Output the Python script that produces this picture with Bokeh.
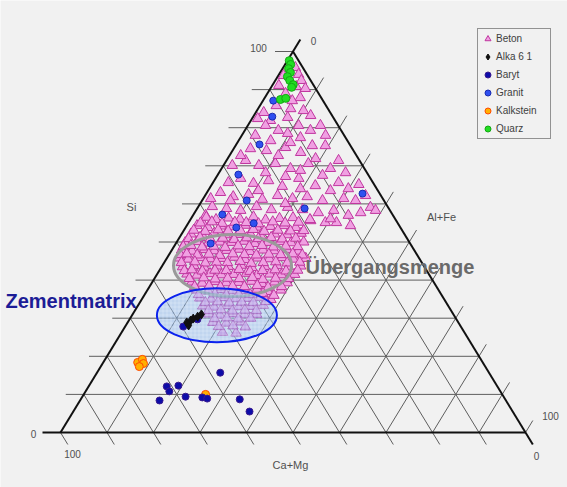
import numpy as np
from bokeh.plotting import figure
from bokeh.models import Range1d, Legend, LegendItem, Label
from bokeh.embed import file_html
from bokeh.resources import INLINE

# ---------------- data: ternary compositions in % (Si, Al+Fe); Ca+Mg = remainder ----------------
beton_upper_si = [
    95.8, 94.0, 92.4, 90.8, 91.1, 89.0, 87.9, 85.0, 84.5, 84.0, 82.4, 81.9, 82.7, 80.6, 79.3, 78.5,
    77.4, 79.3, 74.5, 74.0, 74.8, 73.5, 75.3, 71.4, 70.1, 70.6, 69.3, 70.6, 69.3, 66.7, 65.4, 66.1,
    64.6, 66.7, 64.8, 65.6, 65.1, 63.0, 61.9, 62.5, 61.2, 62.2, 61.4, 61.9, 60.9, 61.4, 60.9, 59.1,
    59.3, 58.8, 58.3, 59.3, 58.5, 59.1, 58.5, 57.7, 55.1, 57.0, 55.1,
    93.7, 90.3, 87.1, 85.8, 83.2, 80.6, 80.6, 78.0, 78.0, 76.1, 75.3, 76.6, 72.7, 72.7, 71.9, 71.4,
    70.1, 68.2, 68.8, 67.5, 68.2, 65.6, 67.2, 63.5, 64.0, 61.4, 64.0, 62.2, 58.3, 60.9, 63.5, 60.1,
    58.3, 57.7, 57.0, 55.1, 55.6, 54.3,
]
beton_upper_alfe = [
    2.6, 4.2, 5.6, 5.3, 1.4, 3.9, 7.6, 7.0, 10.0, 1.7, 1.2, 4.2, 7.5, 15.6, 7.2, 9.6,
    12.9, 14.1, 3.6, 7.3, 11.0, 14.9, 19.3, 4.1, 7.6, 10.9, 14.8, 18.0, 23.4, 5.4, 8.8, 11.7,
    15.4, 17.9, 22.4, 27.0, 31.6, 2.9, 6.2, 9.2, 12.8, 15.6, 19.2, 22.1, 25.9, 30.2, 33.0, 37.1,
    3.0, 6.3, 9.6, 12.5, 16.1, 19.3, 22.8, 26.6, 31.8, 33.4, 3.0,
    1.1, 7.5, 6.3, 3.5, 12.2, 3.8, 10.9, 18.0, 2.9, 11.4, 16.5, 6.9, 2.4, 10.5, 18.9, 24.1,
    1.9, 10.0, 17.2, 22.6, 27.2, 3.3, 14.8, 26.3, 29.9, 1.6, 19.6, 34.5, 38.6, 6.1, 10.8, 18.3,
    29.6, 35.7, 2.7, 29.4, 26.0, 35.2,
]

beton_core_si = [
    56.5, 55.9, 56.3, 56.0, 56.6, 55.8, 56.2, 56.4, 55.9, 56.1,
    54.3, 53.8, 54.2, 54.0, 54.4, 53.9, 54.1, 54.3, 53.8,
    52.1, 51.8, 52.3, 51.9, 52.0, 52.2, 51.7, 52.1, 51.9, 52.3,
    49.8, 50.1, 49.7, 50.0, 49.9, 50.2, 49.6, 49.9, 50.1, 49.8, 50.0,
    47.9, 47.6, 48.0, 47.7, 47.8, 48.1, 47.5, 47.9, 47.7, 48.0, 47.6,
    45.8, 45.5, 45.9, 45.6, 45.7, 46.0, 45.4, 45.8, 45.6, 45.9, 45.5, 45.7,
    43.5, 43.8, 43.4, 43.7, 43.6, 43.9, 43.3, 43.6, 43.8, 43.5, 43.7,
    41.6, 41.3, 41.7, 41.4, 41.5, 41.8, 41.2, 41.6, 41.4, 41.5,
    39.5, 39.2, 39.6, 39.3, 39.4, 39.7, 39.1, 39.5, 39.3,
    37.4, 37.1, 37.5, 37.2, 37.3, 37.6, 37.0, 37.4,
    35.3, 35.0, 35.4, 35.1, 35.2, 35.5, 34.9,
    33.2, 32.9, 33.3, 33.0, 33.1, 33.4,
    31.1, 30.8, 31.2, 30.9, 31.0,
    28.9, 28.7, 29.0,
    26.3, 26.1,
    55.0, 55.3, 54.9, 55.2, 55.1, 54.8, 55.3, 55.0, 55.2,
    53.1, 52.8, 53.2, 52.9, 53.0, 53.3, 52.8, 53.1, 52.9, 53.0,
    50.9, 51.2, 50.8, 51.0, 50.7, 51.1, 50.9, 51.2, 50.8, 51.0,
    48.8, 49.1, 48.7, 48.9, 48.6, 49.0, 48.8, 49.1, 48.7, 48.9, 48.8,
    46.7, 46.9, 46.6, 46.8, 46.5, 46.9, 46.7, 46.6, 46.8, 46.7, 46.9, 46.6,
    44.6, 44.8, 44.5, 44.7, 44.6, 44.9, 44.4, 44.6, 44.8, 44.5, 44.7,
    42.5, 42.7, 42.4, 42.6, 42.5, 42.8, 42.3, 42.5, 42.7, 42.4, 42.6,
    40.4, 40.6, 40.3, 40.5, 40.4, 40.7, 40.2, 40.5, 40.4,
    38.3, 38.5, 38.2, 38.4, 38.3, 38.6, 38.1, 38.3,
    36.2, 36.4, 36.1, 36.3, 36.2, 36.5, 36.0,
    34.1, 34.3, 34.0, 34.2, 34.1, 34.4,
    32.0, 32.2, 31.9, 32.1, 32.0,
    29.9, 30.1, 29.8, 30.0,
    27.8, 28.0, 27.7,
]
beton_core_alfe = [
    3.1, 5.5, 8.0, 10.6, 13.2, 16.2, 19.0, 21.8, 25.7, 30.0,
    2.2, 4.8, 7.4, 10.0, 12.5, 15.3, 18.1, 20.9, 23.7,
    2.0, 4.6, 6.9, 9.5, 12.1, 14.7, 17.2, 20.0, 22.8, 25.6,
    1.9, 4.3, 6.9, 9.3, 11.8, 14.4, 17.0, 19.6, 22.2, 24.7, 27.3,
    2.1, 4.5, 6.9, 9.2, 11.8, 14.4, 17.0, 19.6, 22.1, 24.7, 27.3,
    2.8, 4.7, 7.1, 9.4, 11.8, 14.4, 17.0, 19.5, 22.1, 24.7, 27.3, 29.9,
    4.5, 6.8, 9.2, 11.8, 14.3, 16.9, 19.5, 22.1, 24.7, 27.3, 29.8,
    6.4, 8.7, 11.3, 13.9, 16.5, 19.1, 21.6, 24.2, 26.8, 29.6,
    8.5, 10.9, 13.4, 16.0, 18.6, 21.2, 23.8, 26.3, 29.1,
    10.6, 13.2, 15.8, 18.4, 20.9, 23.5, 26.1, 28.7,
    12.3, 14.9, 17.5, 20.1, 22.6, 25.2, 27.8,
    14.0, 16.6, 19.2, 21.8, 24.3, 26.9,
    16.3, 18.9, 21.5, 24.1, 26.7,
    18.3, 21.3, 24.3,
    21.7, 24.7,
    2.6, 4.9, 7.3, 9.9, 12.4, 15.2, 18.0, 20.8, 23.6,
    2.1, 4.7, 7.3, 9.6, 12.2, 14.8, 17.4, 20.2, 23.0, 25.8,
    2.1, 4.4, 6.8, 9.4, 12.0, 14.5, 17.1, 19.7, 22.3, 25.1,
    2.0, 3.5, 6.1, 8.5, 11.1, 13.7, 16.2, 18.8, 21.4, 24.0, 26.6,
    2.4, 3.7, 6.1, 8.5, 11.0, 13.6, 16.2, 18.8, 21.4, 24.0, 26.5, 28.7,
    3.7, 6.5, 8.9, 11.2, 13.6, 16.2, 18.8, 21.3, 23.9, 26.5, 29.1,
    5.4, 6.9, 9.3, 11.9, 14.4, 17.0, 19.6, 22.2, 24.8, 27.3, 29.7,
    7.5, 10.5, 13.1, 15.7, 18.3, 20.9, 23.4, 26.0, 28.8,
    9.7, 12.7, 15.3, 17.8, 20.4, 23.0, 25.6, 28.4,
    11.6, 15.0, 17.6, 20.2, 22.7, 25.3, 27.9,
    14.1, 16.7, 19.3, 21.9, 24.4, 27.0,
    15.8, 18.4, 21.0, 23.6, 26.1,
    18.2, 20.7, 23.3, 25.9,
    20.1, 23.1, 25.9,
]

alka_si = [28.9, 29.4, 29.9, 30.4, 31.0, 28.1]
alka_alfe = [12.7, 13.3, 13.6, 14.3, 14.8, 13.5]

baryt_si = [15.7, 12.1, 12.3, 10.8, 9.4, 8.4, 9.2, 8.9, 8.7, 5.5, 27.8, 29.7]
baryt_alfe = [26.5, 16.8, 19.2, 18.0, 22.2, 17.1, 25.9, 27.1, 34.2, 37.9, 12.5, 14.6]

granit_si = [87.1, 82.9, 75.6, 67.7, 60.9, 57.2, 53.8, 54.9, 49.6, 58.8, 62.7]
granit_alfe = [2.2, 4.1, 5.0, 4.4, 9.6, 6.2, 10.9, 14.1, 7.5, 23.1, 33.6]

kalk_si = [18.4, 19.2, 18.1, 17.3, 10.0]
kalk_alfe = [7.4, 8.0, 8.8, 8.3, 26.2]

quarz_si = [97.6, 96.6, 95.5, 94.5, 93.4, 92.4, 91.3, 90.6, 87.4, 87.7]
quarz_alfe = [0.4, 1.2, 1.3, 2.2, 2.1, 3.1, 4.4, 4.4, 3.6, 4.6]

tick_values = [0, 10, 20, 30, 40, 50, 60, 70, 80, 90, 100]
series_names = ["Beton", "Alka 6 1", "Baryt", "Granit", "Kalkstein", "Quarz"]

beton_si = beton_upper_si + beton_core_si
beton_alfe = beton_upper_alfe + beton_core_alfe

# ---------------- layout helpers ----------------
W, H = 567, 487
PXX, PXY = 4.65, 3.81          # pixels per ternary unit (x, y)
X0, Y0 = 60, 432               # pixel position of the Ca+Mg corner


def tern_xy(si, alfe):
    si = np.asarray(si, float)
    al = np.asarray(alfe, float)
    return al + si / 2.0, si


def px(xp, yp):
    """pixel -> plot units (layout helper for labels/annotations)"""
    return (xp - X0) / PXX, (Y0 - yp) / PXY


BG = "#f1f1f1"
p = figure(width=W, height=H,
           x_range=Range1d(-X0 / PXX, (W - X0) / PXX),
           y_range=Range1d((Y0 - H) / PXY, Y0 / PXY),
           output_backend="svg", toolbar_location=None, min_border=0,
           x_axis_location=None, y_axis_location=None)
p.grid.visible = False
p.outline_line_color = None
p.background_fill_color = BG
p.border_fill_color = BG

# ---------------- ternary grid ----------------
EH = 18 / PXX
EK = 12 / PXY
gx, gy, bx, by = [], [], [], []
for t in tick_values:
    segs = [([t / 2 - EH, 100 - t / 2], [t, t]),                         # Si = t
            ([t, t + (100 - t) / 2 + EK / 2], [0, 100 - t + EK]),        # Al+Fe = t
            ([(100 - t) / 2, 100 - t + EK / 2], [100 - t, -EK])]         # Ca+Mg = t
    for xs, ys in segs:
        if t == 0:
            bx.append(xs); by.append(ys)
        else:
            gx.append(xs); gy.append(ys)
p.multi_line(gx, gy, line_color="#5e5e5e", line_width=1)
p.multi_line(bx, by, line_color="#111111", line_width=2)

# ---------------- annotations (ellipses) ----------------
gcx, gcy = px(232, 265)
p.ellipse(x=[gcx], y=[gcy], width=[118 / PXX], height=[62 / PXY],
          fill_color="#c6cfd9", fill_alpha=0.45, line_color=None)

# ---------------- data marks ----------------
x, y = tern_xy(beton_si, beton_alfe)
r_beton = p.scatter(x, y, marker="triangle", size=10.5, fill_color="#f0a0e2",
                    line_color="#c0369f", line_width=1)

p.ellipse(x=[gcx], y=[gcy], width=[118 / PXX], height=[62 / PXY],
          fill_color=None, line_color="#9a9a9a", line_width=3)

x, y = tern_xy(granit_si, granit_alfe)
r_granit = p.scatter(x, y, marker="circle", size=7, fill_color="#2f50f0", line_color="#1a2cb0")
x, y = tern_xy(quarz_si, quarz_alfe)
r_quarz = p.scatter(x, y, marker="circle", size=8, fill_color="#22dd22", line_color="#14a814")
x, y = tern_xy(kalk_si, kalk_alfe)
r_kalk = p.scatter(x, y, marker="circle", size=8, fill_color="#ffb000", line_color="#ff4a00")

bcx, bcy = px(216.4, 314.7)
p.ellipse(x=[bcx], y=[bcy], width=[120 / PXX], height=[54 / PXY],
          fill_color="#86b3ee", fill_alpha=0.45, hatch_pattern="cross", hatch_color="white",
          hatch_alpha=0.35, hatch_scale=4, hatch_weight=0.7,
          line_color="#0b22ee", line_width=2)

x, y = tern_xy(baryt_si, baryt_alfe)
r_baryt = p.scatter(x, y, marker="circle", size=7, fill_color="#0c0ca8", line_color="#3a1a90")
x, y = tern_xy(alka_si, alka_alfe)
r_alka = p.scatter(x, y, marker="diamond", size=9, fill_color="#101010", line_color="#101010")

# ---------------- texts ----------------
FONT = "Liberation Sans"


def lab(text, xp, yp, size="10px", color="#505050", align="center", bold=False):
    lx, ly = px(xp, yp)
    p.add_layout(Label(x=lx, y=ly, text=text, text_font=FONT, text_font_size=size,
                       text_color=color, text_align=align, text_baseline="middle",
                       text_font_style="bold" if bold else "normal"))


lab("100", 258, 47)
lab("0", 313, 40)
lab("0", 33, 433)
lab("100", 72, 453)
lab("0", 536, 455)
lab("100", 550, 415)
lab("Si", 131, 206, size="11px")
lab("Al+Fe", 441, 216, size="11px")
lab("Ca+Mg", 290, 464, size="11px")
lab("Zementmatrix", 5, 300, size="20px", color="#1c1c96", align="left", bold=True)
lab("Übergangsmenge", 305, 266, size="20px", color="#6a6a6a", align="left", bold=True)

# ---------------- legend ----------------
renderers = [r_beton, r_alka, r_baryt, r_granit, r_kalk, r_quarz]
legend = Legend(items=[LegendItem(label=n, renderers=[r]) for n, r in zip(series_names, renderers)],
                location=(477, H - 30 - 109), padding=2, spacing=3, margin=0,
                glyph_width=15, glyph_height=15, label_height=15, label_width=52,
                label_standoff=1, label_text_font=FONT, label_text_font_size="10px",
                label_text_color="#404040", border_line_color="#333333", border_line_width=1,
                background_fill_color=BG, background_fill_alpha=1.0)
p.add_layout(legend)

open("out.html", "w").write(file_html(p, INLINE))
